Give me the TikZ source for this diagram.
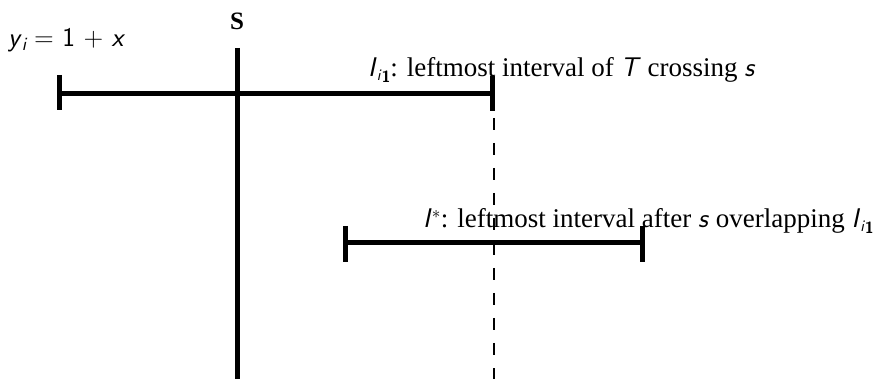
\documentclass[tikz,border=0pt]{standalone}
\usepackage{fontspec}
\setmainfont{Liberation Serif}
\newcommand\mv[1]{\textsf{\itshape #1}}
\newcommand\Ione{\mv{I}\raisebox{-0.3ex}{\scalebox{0.6}{\mv{i}\raisebox{-0.3ex}{\textsf{\bfseries 1}}}}}
\begin{document}
\begin{tikzpicture}[x=1pt,y=-1pt,
  bar/.style={line width=5pt},
  tick/.style={line width=5pt},
  guide/.style={line width=1.8pt,dash pattern=on 12pt off 13pt},
  lbl/.style={inner sep=0pt,font=\fontsize{27}{32}\selectfont}]
\useasboundingbox (0,0) rectangle (873,379);
% sweep line S
\coordinate (st) at (237,48);
\coordinate (sb) at (237,379);
\draw[bar] (st) -- (sb);
\node[inner sep=0pt] (S) at (237,21) {\scalebox{2.5}{\textbf{S}}};
% top interval
\coordinate (a1) at (59,94);
\coordinate (a2) at (492,94);
\draw[bar] (a1) -- (a2);
\draw[tick] (59,75) -- (59,110);
\draw[tick] (492,76) -- (492,111);
% dashed guide
\coordinate (dt) at (494,118);
\coordinate (db) at (494,379);
\draw[guide] (dt) -- (db);
% lower interval
\coordinate (b1) at (345,243);
\coordinate (b2) at (642,243);
\draw[bar] (b1) -- (b2);
\draw[tick] (345,226) -- (345,262);
\draw[tick] (642,226) -- (642,262);
% labels
\node[lbl,anchor=base west] (y) at (8,47) {\mv{y}\raisebox{-0.25ex}{\scalebox{0.7}{\mv{i}}} \textsf{= 1 + }\mv{x}};
\node[lbl,anchor=base west] (L1) at (368,77) {\Ione: leftmost interval of \mv{T} crossing \mv{s}};
\node[lbl,anchor=base west] (L2) at (423,228) {\mv{I}$^*$: leftmost interval after \mv{s} overlapping \Ione};
\end{tikzpicture}
\end{document}
